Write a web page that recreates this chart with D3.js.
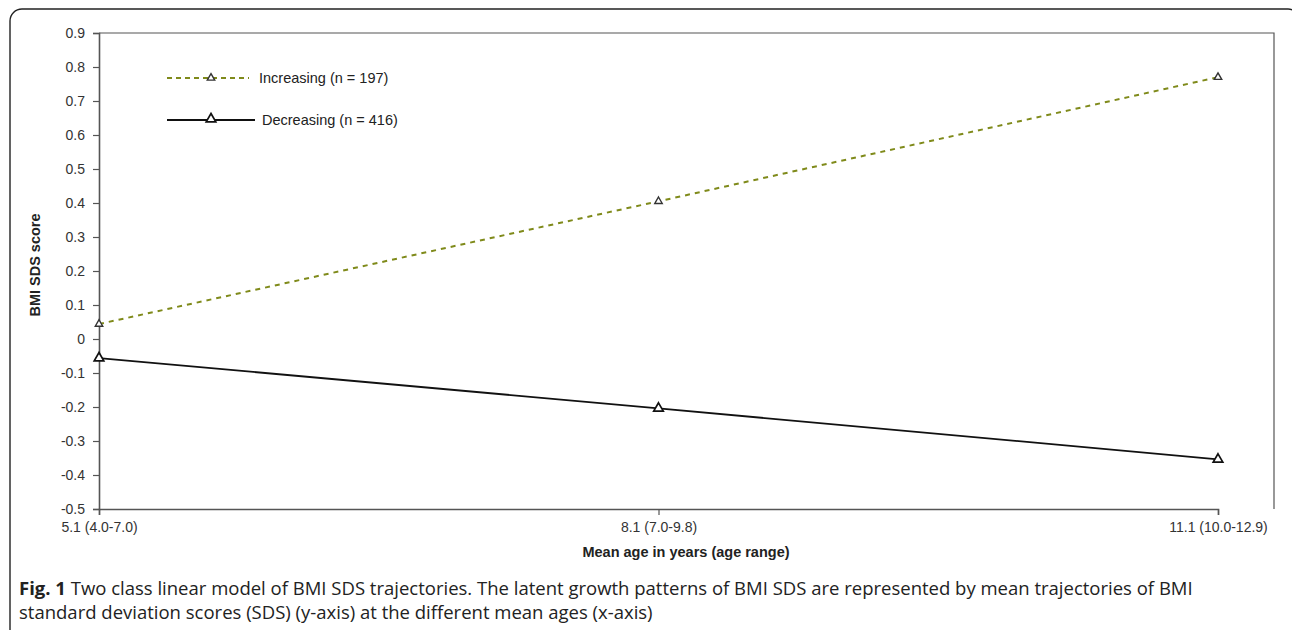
<!DOCTYPE html>
<html><head><meta charset="utf-8">
<script src="https://cdn.jsdelivr.net/npm/d3@7"></script>
<style>body{margin:0;background:#fff;} svg{display:block;}</style>
</head><body>
<script>
const categories = ["5.1 (4.0-7.0)", "8.1 (7.0-9.8)", "11.1 (10.0-12.9)"];
const increasing = [0.044, 0.405, 0.77];
const decreasing = [-0.056, -0.204, -0.354];
const yTicks = [0.9,0.8,0.7,0.6,0.5,0.4,0.3,0.2,0.1,0,-0.1,-0.2,-0.3,-0.4,-0.5];
const seriesNames = ["Increasing (n = 197)", "Decreasing (n = 416)"];

(function(){
const W = 1292, H = 630;
const svg = d3.select("body").append("svg").attr("width", W).attr("height", H);
const FONT = "Liberation Sans, Arial, sans-serif";

// outer rounded border
svg.append("rect").attr("x", 10).attr("y", 9).attr("width", 1290).attr("height", 640)
  .attr("rx", 12).attr("fill", "none").attr("stroke", "#222").attr("stroke-width", 1.4);

const pL = 99, pR = 1274, pT = 33, pB = 509;
const x = d3.scalePoint().domain(categories).range([pL, 1218]);
const y = d3.scaleLinear().domain([-0.5, 0.9]).range([pB, pT]);

// frame top/right
svg.append("path").attr("d", `M${pL},${pT}H${pR}V${pB}`).attr("fill","none").attr("stroke","#555").attr("stroke-width",1.2);

const axisColor = "#555";
const yAxis = svg.append("g").attr("transform", `translate(${pL},0)`)
  .call(d3.axisLeft(y).tickValues(yTicks).tickSize(6).tickPadding(8).tickFormat(d => Math.abs(d) < 1e-9 ? "0" : d.toFixed(1)));
const xAxis = svg.append("g").attr("transform", `translate(0,${pB})`)
  .call(d3.axisBottom(x).tickSize(6).tickPadding(7));
[yAxis, xAxis].forEach(g => {
  g.select(".domain").attr("stroke", axisColor).attr("stroke-width", 1.6);
  g.selectAll(".tick line").attr("stroke", axisColor).attr("stroke-width", 1.2);
  g.selectAll("text").attr("font-family", FONT).attr("font-size", 14).attr("fill", "#333");
});

// axis titles
svg.append("text").attr("x", 686).attr("y", 557).attr("text-anchor", "middle")
  .attr("font-family", FONT).attr("font-weight", "bold").attr("font-size", 14.5).attr("fill", "#222")
  .text("Mean age in years (age range)");
svg.append("text").attr("transform", `translate(40,265) rotate(-90)`).attr("text-anchor", "middle")
  .attr("font-family", FONT).attr("font-weight", "bold").attr("font-size", 14.5).attr("fill", "#222")
  .text("BMI SDS score");

const tri = d3.symbol().type(d3.symbolTriangle);
const line = d3.line().x((d,i) => x(categories[i])).y(d => y(d));

// Increasing series
svg.append("path").datum(increasing).attr("d", line).attr("fill","none")
  .attr("stroke", "#7f8a1a").attr("stroke-width", 2).attr("stroke-dasharray", "5,5");
svg.append("g").selectAll("path").data(increasing).join("path")
  .attr("d", tri.size(24)).attr("transform", (d,i) => `translate(${x(categories[i])},${y(d)})`)
  .attr("fill", "#fff").attr("stroke", "#333").attr("stroke-width", 1.4);

// Decreasing series
svg.append("path").datum(decreasing).attr("d", line).attr("fill","none")
  .attr("stroke", "#111").attr("stroke-width", 1.8);
svg.append("g").selectAll("path").data(decreasing).join("path")
  .attr("d", tri.size(40)).attr("transform", (d,i) => `translate(${x(categories[i])},${y(d)})`)
  .attr("fill", "#fff").attr("stroke", "#111").attr("stroke-width", 1.7);

// legend
const lg = svg.append("g").attr("font-family", FONT).attr("font-size", 14.5).attr("fill", "#222");
lg.append("line").attr("x1", 167).attr("x2", 249).attr("y1", 78).attr("y2", 78)
  .attr("stroke", "#7f8a1a").attr("stroke-width", 1.8).attr("stroke-dasharray", "5,4");
lg.append("path").attr("d", tri.size(24)).attr("transform", "translate(211,78)").attr("fill","#fff").attr("stroke","#333").attr("stroke-width",1.4);
lg.append("text").attr("x", 259).attr("y", 83).text(seriesNames[0]);
lg.append("line").attr("x1", 167).attr("x2", 255).attr("y1", 120).attr("y2", 120)
  .attr("stroke", "#111").attr("stroke-width", 1.8);
lg.append("path").attr("d", tri.size(40)).attr("transform", "translate(211,119)").attr("fill","#fff").attr("stroke","#111").attr("stroke-width",1.7);
lg.append("text").attr("x", 262).attr("y", 124.5).text(seriesNames[1]);

// caption
const cap = svg.append("text").attr("font-family", "Open Sans, sans-serif").attr("font-size", 18.5).attr("fill", "#222");
const l1 = cap.append("tspan").attr("x", 19).attr("y", 595);
l1.append("tspan").attr("font-weight", "bold").text("Fig. 1");
l1.append("tspan").text(" Two class linear model of BMI SDS trajectories. The latent growth patterns of BMI SDS are represented by mean trajectories of BMI");
cap.append("tspan").attr("x", 19).attr("y", 619).text("standard deviation scores (SDS) (y-axis) at the different mean ages (x-axis)");
})();
</script>
</body></html>
